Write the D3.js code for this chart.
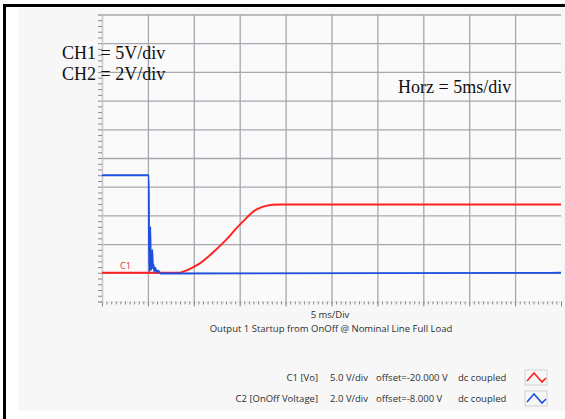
<!DOCTYPE html>
<html><head><meta charset="utf-8">
<script src="https://cdn.jsdelivr.net/npm/d3@7"></script>
<style>
html,body{margin:0;padding:0;background:#fff;}
svg{display:block;}
</style></head>
<body>
<script>
// ---- data ----
const c1Time = [0, 8.4, 9.0, 9.6, 10.2, 10.8, 11.5, 12.2, 13.0, 13.8, 14.6, 15.4, 16.2, 16.8, 17.4, 18.0, 18.6, 19.5, 50];
const c1Volts = [0, 0, 0.3, 0.7, 1.2, 1.8, 2.7, 3.7, 4.9, 6.2, 7.7, 9.0, 10.3, 11.0, 11.45, 11.7, 11.85, 11.9, 11.9];
const c2Time = [0, 5.1, 5.13, 5.2, 5.26, 5.32, 5.4, 5.48, 5.54, 5.6, 5.7, 5.8, 5.95, 6.1, 6.4, 50];
const c2Volts = [6.8, 6.8, 0.1, 0.4, 3.2, 0.2, 0.5, 1.6, 0.3, 0.6, 0.1, 0.35, 0.05, 0.15, -0.05, 0];
const channels = [
  {name: "C1 [Vo]", vdiv: 5.0, offset: -20.0, coupling: "dc coupled", time: c1Time, volts: c1Volts, color: "#ff2020"},
  {name: "C2 [OnOff Voltage]", vdiv: 2.0, offset: -8.0, coupling: "dc coupled", time: c2Time, volts: c2Volts, color: "#1f4fe0"}
];
const xTickMs = d3.range(0, 51, 5);
const yDivs = d3.range(0, 11, 1);
const notes = ["CH1 = 5V/div", "CH2 = 2V/div"];
const horzNote = "Horz = 5ms/div";
const xAxisLabel = "5 ms/Div";
const plotTitle = "Output 1 Startup from OnOff @ Nominal Line Full Load";

// ---- layout ----
const W = 565, H = 419;
const svg = d3.select("body").append("svg").attr("width", W).attr("height", H);

svg.append("rect").attr("x", 18).attr("y", 8).attr("width", W - 18).attr("height", 403).attr("fill", "#f7f7f7");
svg.append("rect").attr("x", 3).attr("y", 4).attr("width", W - 3).attr("height", 3).attr("fill", "#000");
svg.append("rect").attr("x", 3).attr("y", 4).attr("width", 3).attr("height", H - 4).attr("fill", "#000");

const x = d3.scaleLinear().domain([0, 50]).range([102, 561]);
const y = d3.scaleLinear().domain([0, 10]).range([301.5, 14.5]);

// plot area background
svg.append("rect").attr("x", x(0)).attr("y", y(10)).attr("width", x(50) - x(0)).attr("height", y(0) - y(10)).attr("fill", "#fafafa");

// grid
const grid = svg.append("g");
grid.append("g").attr("transform", `translate(0,${y(0)})`)
  .call(d3.axisBottom(x).tickValues(xTickMs.filter(d => d < 50)).tickSize(-(y(0) - y(10))).tickFormat(""))
  .call(g => g.select(".domain").remove())
  .call(g => g.selectAll("line").attr("stroke", "#a7a7b0").attr("stroke-width", 1.3));
grid.append("g").attr("transform", `translate(${x(0)},0)`)
  .call(d3.axisLeft(y).tickValues(yDivs.filter(d => d > 0)).tickSize(-(x(50) - x(0))).tickFormat(""))
  .call(g => g.select(".domain").remove())
  .call(g => g.selectAll("line").attr("stroke", "#a7a7b0").attr("stroke-width", 1.3));

// minor ticks
svg.append("g").attr("transform", `translate(0,${y(0)})`)
  .call(d3.axisBottom(x).tickValues(d3.range(0, 50.01, 0.5)).tickSize(3).tickFormat(""))
  .call(g => g.select(".domain").attr("stroke", "#c8c8c8").attr("stroke-dasharray", "1,2"))
  .call(g => g.selectAll("line").attr("stroke", "#8a8a8a"));
svg.append("g").attr("transform", `translate(0,${y(0)})`)
  .call(d3.axisBottom(x).tickValues(xTickMs).tickSize(5).tickFormat(""))
  .call(g => g.select(".domain").remove())
  .call(g => g.selectAll("line").attr("stroke", "#8a8a8a"));
svg.append("g").attr("transform", `translate(${x(0)},0)`)
  .call(d3.axisLeft(y).tickValues(d3.range(0, 10.01, 0.2)).tickSize(4).tickFormat(""))
  .call(g => g.select(".domain").attr("stroke", "#c8c8c8"))
  .call(g => g.selectAll("line").attr("stroke", "#8a8a8a"));

// traces
const line = d3.line().curve(d3.curveMonotoneX);
channels.forEach(ch => {
  const pts = ch.time.map((t, i) => [x(t), y(5 + (ch.volts[i] + ch.offset) / ch.vdiv)]);
  svg.append("path").attr("d", line(pts)).attr("fill", "none")
    .attr("stroke", ch.color).attr("stroke-width", 1.9).attr("stroke-linejoin", "round");
});

// channel marker
svg.append("text").attr("x", 120).attr("y", y(5 + channels[0].offset / channels[0].vdiv) - 4)
  .attr("font-family", "Open Sans").attr("font-size", 9).attr("fill", "#e03030").text("C1");

// notes
svg.selectAll("text.note").data(notes).join("text").attr("class", "note")
  .attr("x", 62).attr("y", (d, i) => 58.5 + i * 21.5)
  .attr("font-family", "Liberation Serif").attr("font-size", 18).attr("fill", "#111").text(d => d);
svg.append("text").attr("x", 398).attr("y", 93)
  .attr("font-family", "Liberation Serif").attr("font-size", 18).attr("fill", "#111").text(horzNote);

// axis labels
svg.append("text").attr("x", 330).attr("y", 318).attr("text-anchor", "middle")
  .attr("font-family", "Open Sans").attr("font-size", 9.5).attr("fill", "#2f2f2f").text(xAxisLabel);
svg.append("text").attr("x", 331).attr("y", 332).attr("text-anchor", "middle")
  .attr("font-family", "Open Sans").attr("font-size", 9.5).attr("fill", "#2f2f2f").text(plotTitle);

// legend
const legend = svg.append("g").attr("font-family", "Open Sans").attr("font-size", 9.5).attr("fill", "#2f2f2f");
channels.forEach((ch, i) => {
  const yy = 381 + i * 21;
  legend.append("text").attr("x", 318).attr("y", yy).attr("text-anchor", "end").text(ch.name);
  legend.append("text").attr("x", 368).attr("y", yy).attr("text-anchor", "end").text(ch.vdiv.toFixed(1) + " V/div");
  legend.append("text").attr("x", 376).attr("y", yy).text("offset=" + ch.offset.toFixed(3) + " V");
  legend.append("text").attr("x", 458).attr("y", yy).text(ch.coupling);
  const bx = 525, by = yy - 11;
  legend.append("rect").attr("x", bx).attr("y", by).attr("width", 22).attr("height", 15)
    .attr("fill", "#f7f7f7").attr("stroke", "#c8c8c8").attr("stroke-width", 0.8);
  legend.append("path").attr("d", `M${bx + 2},${by + 11} L${bx + 9},${by + 3} L${bx + 17},${by + 12} L${bx + 21},${by + 8}`)
    .attr("fill", "none").attr("stroke", ch.color).attr("stroke-width", 1.6);
});
</script>
</body></html>
